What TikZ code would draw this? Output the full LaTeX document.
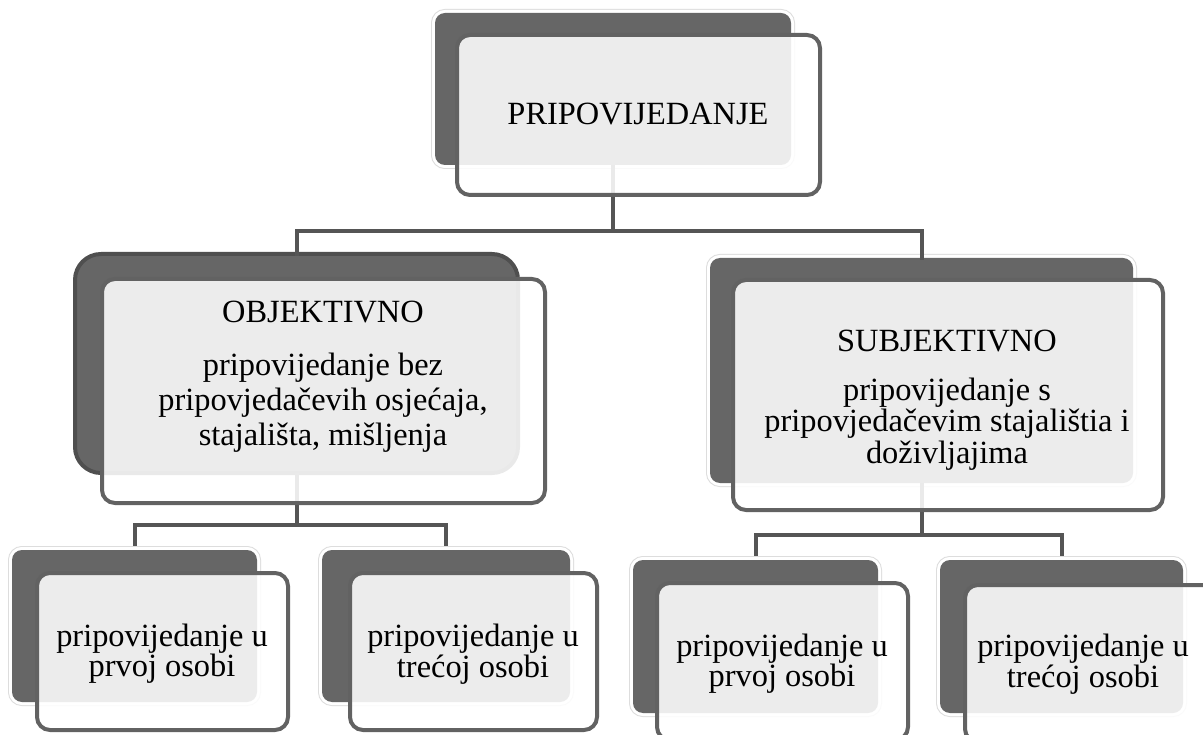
\documentclass[tikz,border=0pt]{standalone}
\usepackage{fontspec}
\setmainfont{Liberation Serif}
\definecolor{darkfill}{HTML}{666666}
\definecolor{frontdraw}{HTML}{626262}
\definecolor{connc}{HTML}{555555}
\definecolor{haloc}{HTML}{DDDDDD}
\definecolor{strongdraw}{HTML}{4F4F4F}
\newcommand\rbox[6]{\node[#1, minimum width={#5-#3}, minimum height={#6-#4}] (#2) at ({(#3+#5)/2},{(#4+#6)/2}) {};}
\begin{document}
\begin{tikzpicture}[x=1pt,y=-1pt,
  base/.style={rectangle, inner sep=0pt, outer sep=0pt},
  dark/.style={base, rounded corners=10pt, fill=darkfill,
     preaction={draw=haloc, line width=8pt},
     preaction={draw=white, line width=6pt}},
  darkstrong/.style={base, rounded corners=26pt, fill=darkfill, draw=strongdraw, line width=4pt},
  front/.style={base, rounded corners=13pt, draw=frontdraw, line width=4pt, fill=white, fill opacity=0.88},
  conn/.style={draw=connc, line width=4pt},
  txt/.style={inner sep=0pt, align=center, text=black, font=\fontsize{32.4}{35}\selectfont}]
\useasboundingbox (0,0) rectangle (1203,735);
\fill[white] (0,0) rectangle (1203,735);
\clip (0,0) rectangle (1203,735);
% dark (back) boxes
\rbox{dark}{d0}{435}{13}{791}{165}
\rbox{darkstrong}{d1}{75}{254}{518}{473}
\rbox{dark}{d2}{710}{258}{1133}{483}
\rbox{dark}{d11}{12}{550}{257}{702}
\rbox{dark}{d12}{322}{550}{570}{702}
\rbox{dark}{d21}{633}{560}{878}{713}
\rbox{dark}{d22}{940}{560}{1183}{713}
% connectors
\draw[conn] (d0.south) -- ++(0,66) coordinate (j0);
\draw[conn, line cap=rect] (j0) -| (d1.north);
\draw[conn, line cap=rect] (j0) -| (d2.north);
\draw[conn] (d1.south) -- ++(0,52) coordinate (j1);
\draw[conn] (j1) -| ([yshift=4pt]d11.north);
\draw[conn] (j1) -| ([yshift=4pt]d12.north);
\draw[conn] (d2.south) -- ++(0,52) coordinate (j2);
\draw[conn] (j2) -| ([yshift=4pt]d21.north);
\draw[conn] (j2) -| ([yshift=4pt]d22.north);
% front boxes
\rbox{front}{f0}{457}{35}{820}{195}
\rbox{front}{f1}{102}{279}{545}{503}
\rbox{front}{f2}{733}{280}{1163}{510}
\rbox{front}{f11}{37}{573}{288}{730}
\rbox{front}{f12}{350}{573}{597}{730}
\rbox{front}{f21}{657}{583}{908}{740}
\rbox{front}{f22}{965}{585}{1216}{742}
% texts
\node[txt] (t0) at (638,114) {PRIPOVIJEDANJE};
\node[txt] (t1) at (323,377) {OBJEKTIVNO\\[18pt]pripovijedanje bez\\pripovjedačevih osjećaja,\\stajališta, mišljenja};
\node[txt, font=\fontsize{32.4}{31.5}\selectfont] (t2) at (947,400) {SUBJEKTIVNO\\[17pt]pripovijedanje s\\pripovjedačevim stajalištia i\\doživljajima};
\node[txt, font=\fontsize{32.4}{27}\selectfont] (t11) at (162,654) {pripovijedanje u\\prvoj osobi};
\node[txt, font=\fontsize{32.4}{27}\selectfont] (t12) at (473,654) {pripovijedanje u\\trećoj osobi};
\node[txt, font=\fontsize{32.4}{27}\selectfont] (t21) at (782,664) {pripovijedanje u\\prvoj osobi};
\node[txt, font=\fontsize{32.4}{27}\selectfont] (t22) at (1083,664) {pripovijedanje u\\trećoj osobi};
\end{tikzpicture}
\end{document}
